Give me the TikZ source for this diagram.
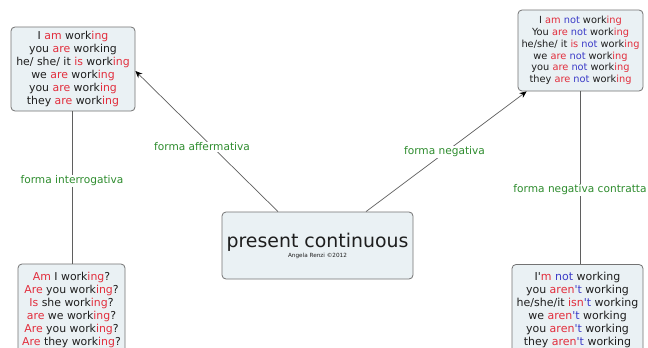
\documentclass[tikz,border=0pt]{standalone}
\usepackage{fontspec}
\setmainfont{DejaVu Sans}
\usetikzlibrary{arrows.meta,calc}
\definecolor{redc}{RGB}{226,45,60}
\definecolor{bluec}{RGB}{60,60,200}
\definecolor{txtc}{RGB}{30,30,30}
\definecolor{greenc}{RGB}{45,140,45}
\definecolor{boxfill}{RGB}{234,241,244}
\definecolor{boxdraw}{RGB}{115,115,115}
\definecolor{linec}{RGB}{95,95,95}
\newcommand{\rd}[1]{\textcolor{redc}{#1}}
\newcommand{\bl}[1]{\textcolor{bluec}{#1}}
\newcommand{\apo}{\textquotesingle}
\tikzset{
  conbox/.style={draw=boxdraw, fill=boxfill, rounded corners=4pt, line width=0.8pt,
    align=center, text=txtc, inner sep=0pt, font=\fontsize{10.9}{13}\selectfont},
  conline/.style={draw=linec, line width=0.7pt},
  conarrow/.style={conline, -{Stealth[length=7pt,width=6pt,color=black]}},
  lab/.style={text=greenc, fill=white, inner sep=1pt, font=\fontsize{10.6}{12}\selectfont}
}
\begin{document}
\begin{tikzpicture}[x=1pt,y=-1pt]
\useasboundingbox (0,0) rectangle (648,348);
\clip (0,0) rectangle (648,348);
\fill[white] (0,0) rectangle (648,348);

\node[conbox, minimum width=124pt, minimum height=84pt] (tl) at (73,69)
  {I \rd{am} work\rd{ing}\\
   you \rd{are} working\\
   he/ she/ it \rd{is} work\rd{ing}\\
   we \rd{are} work\rd{ing}\\
   you \rd{are} work\rd{ing}\\
   they \rd{are} work\rd{ing}};

\node[conbox, minimum width=125pt, minimum height=81pt, font=\fontsize{9.8}{11.7}\selectfont] (tr) at (580.5,50.5)
  {I \rd{am} \bl{not} work\rd{ing}\\
   You \rd{are} \bl{not} work\rd{ing}\\
   he/she/ it \rd{is} \bl{not} work\rd{ing}\\
   we \rd{are} \bl{not} work\rd{ing}\\
   you \rd{are} \bl{not} work\rd{ing}\\
   they \rd{are} \bl{not} work\rd{ing}};

\node[conbox, minimum width=107pt, minimum height=91pt] (bl) at (71.5,309.5)
  {\rd{Am} I work\rd{ing}?\\
   \rd{Are} you work\rd{ing}?\\
   \rd{Is} she work\rd{ing}?\\
   \rd{are} we work\rd{ing}?\\
   \rd{Are} you work\rd{ing}?\\
   \rd{Are} they work\rd{ing}?};

\node[conbox, minimum width=131pt, minimum height=91pt, font=\fontsize{11}{13}\selectfont] (br) at (577.5,310)
  {I\apo\rd{m} \bl{not} working\\
   you \rd{aren}\bl{\apo t} working\\
   he/she/it \rd{isn}\bl{\apo t} working\\
   we \rd{aren}\bl{\apo t} working\\
   you \rd{aren}\bl{\apo t} working\\
   they \rd{aren}\bl{\apo t} working};

\node[conbox, minimum width=191pt, minimum height=67pt] (ctr) at (317.5,245.5)
  {{\fontsize{18.9}{20}\selectfont present continuous}\\[-3pt]
   {\fontsize{5.7}{7}\selectfont Angela Renzi \textcopyright2012}};

\draw[conarrow] ([xshift=-39.5pt]ctr.north) -- ([yshift=-2pt]tl.east);
\draw[conarrow] ([xshift=48.5pt]ctr.north) -- ([xshift=9pt]tr.south west);
\draw[conline] (tl.south -| 72,0) -- (bl.north -| 72,0);
\draw[conline] (tr.south -| 580,0) -- (br.north -| 580,0);

\node[lab] (la) at (202,147) {forma affermativa};
\node[lab] (ln) at (444.5,152) {forma negativa};
\node[lab] (li) at (72,181) {forma interrogativa};
\node[lab] (lc) at (580,190) {forma negativa contratta};
\end{tikzpicture}
\end{document}
